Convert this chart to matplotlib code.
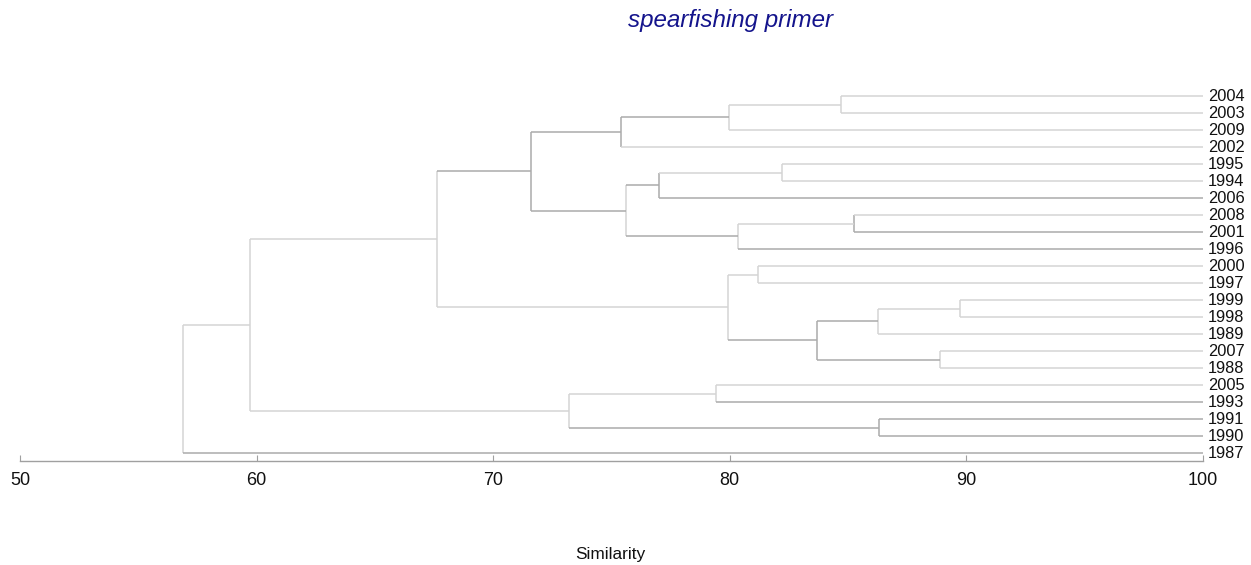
import matplotlib
matplotlib.use("Agg")
import matplotlib.pyplot as plt

plt.rcParams['font.family'] = ['Liberation Sans', 'DejaVu Sans']

# Leaf order, top to bottom
years = ["2004", "2003", "2009", "2002", "1995", "1994", "2006", "2008", "2001",
         "1996", "2000", "1997", "1999", "1998", "1989", "2007", "1988", "2005",
         "1993", "1991", "1990", "1987"]

# Cluster joins: (name, left child, right child, similarity %)
joins_name = ["A", "B", "C", "D", "E", "F", "G", "H", "I", "J", "K", "L", "M",
              "N", "O", "P", "Q", "R", "S", "T", "U"]
joins_left = ["2004", "A", "B", "1995", "D", "2008", "F", "E", "C", "2000",
              "1999", "K", "2007", "L", "J", "I", "2005", "1991", "Q", "P", "T"]
joins_right = ["2003", "2009", "2002", "1994", "2006", "2001", "1996", "G", "H",
               "1997", "1998", "1989", "1988", "M", "N", "O", "1993", "1990",
               "R", "S", "1987"]
joins_sim = [84.7, 79.95, 75.4, 82.22, 77.0, 85.24, 80.35, 75.62, 71.6, 81.2,
             89.72, 86.27, 88.9, 83.68, 79.92, 67.62, 79.43, 86.32, 73.2,
             59.73, 56.9]

LIGHT = "#d4d4d4"
DARK = "#ababab"
dark_links = {("I", "C"), ("I", "H"), ("H", "E"), ("H", "G"), ("E", "2006"),
              ("G", "1996"), ("F", "2001"), ("R", "1991"), ("R", "1990"),
              ("S", "R"), ("U", "1987"), ("N", "L"), ("N", "M"), ("C", "B"),
              ("Q", "1993"), ("P", "I"), ("O", "N")}
dark_nodes = {"I", "C", "N", "R", "E", "F"}

fig = plt.figure(figsize=(12.51, 5.65), dpi=100)
ax = fig.add_axes([20 / 1251, 1 - 461 / 565, (1203 - 20) / 1251, (461 - 87.5) / 565])

ypos = {y: i for i, y in enumerate(years)}
xpos = {y: 100.0 for y in years}

for name, left, right, sim in zip(joins_name, joins_left, joins_right, joins_sim):
    yl, yr = ypos[left], ypos[right]
    vcol = DARK if name in dark_nodes else LIGHT
    ax.plot([sim, sim], [yl, yr], color=vcol, lw=1.1, solid_capstyle="butt")
    for child in (left, right):
        col = DARK if (name, child) in dark_links else LIGHT
        ax.plot([sim, xpos[child]], [ypos[child], ypos[child]], color=col,
                lw=1.1, solid_capstyle="butt")
    ypos[name] = (yl + yr) / 2
    xpos[name] = sim

for y in years:
    ax.text(100.2, ypos[y], y, ha="left", va="center", fontsize=11.8, color="#111111")

ax.set_xlim(50, 100)
ax.set_ylim(len(years) - 1 + 0.47, -0.5)
ax.set_xticks([50, 60, 70, 80, 90, 100])
ax.tick_params(axis="x", direction="in", length=4, width=0.8, color="#a0a0a0",
               labelsize=13, labelcolor="#111111", pad=8)
ax.set_yticks([])
for side in ("top", "right", "left"):
    ax.spines[side].set_visible(False)
ax.spines["bottom"].set_color("#a0a0a0")
ax.spines["bottom"].set_linewidth(1.0)

fig.text(730 / 1251, 1 - 21 / 565, "spearfishing primer", ha="center", va="center",
         fontsize=17.4, style="italic", color="#14148c")
fig.text(610 / 1251, 1 - 555 / 565, "Similarity", ha="center", va="center",
         fontsize=12.4, color="#111111")

fig.savefig("out.png", dpi=100)
